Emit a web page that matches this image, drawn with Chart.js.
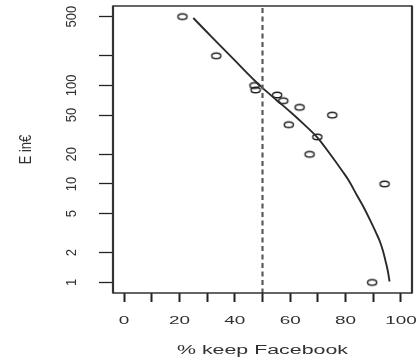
<!DOCTYPE html>
<html>
<head>
<meta charset="utf-8">
<script src="https://cdn.jsdelivr.net/npm/chart.js@4"></script>
<style>
  html, body { margin: 0; padding: 0; background: #fff; }
  #wrap { width: 418px; height: 360px; position: relative; }
</style>
</head>
<body>
<div id="wrap"><canvas id="chart"></canvas></div>
<script>
// Survey answers: share of people who would keep Facebook vs. the price offered
const keepPct = [21.1, 33.3, 47.1, 47.5, 55.3, 57.5, 63.4, 75.2, 59.5, 69.8, 67.0, 94.1, 89.6];
const priceEur = [500, 200, 100, 90, 80, 70, 60, 50, 40, 30, 20, 10, 1];

// Fitted curve through the answers
const fitPct = [25, 30, 35, 40, 45, 48, 50, 55, 60, 65, 70, 75, 79, 81, 84, 86.4, 89, 91, 92.4, 93.5, 94.5, 95.3, 95.9];
const fitEur = [484, 347, 249, 179.5, 128.8, 106.4, 94.4, 71.3, 54.0, 40.2, 29.2, 19.1, 13.3, 11.0, 7.76, 5.89, 4.22, 3.20, 2.60, 2.09, 1.62, 1.29, 1.02];

// Axis ticks
const xTicks = [0, 10, 20, 30, 40, 50, 60, 70, 80, 90, 100];
const xLabels = ['0', '', '20', '', '40', '', '60', '', '80', '', '100'];
const yTicks = [1, 2, 5, 10, 20, 50, 100, 200, 500];
const yLabels = ['1', '2', '5', '10', '20', '50', '100', '', '500'];

const cutoff = 50;
const xTitle = '% keep Facebook';
const yTitle = 'E in€';

const FONT = "'Liberation Sans', Arial, Helvetica, sans-serif";
const INK = '#2a2a2a';

// open ellipse marker
function ringMarker() {
  const c = document.createElement('canvas');
  c.width = 14; c.height = 10;
  const g = c.getContext('2d');
  g.strokeStyle = '#1e1e1e';
  g.lineWidth = 1.4;
  g.beginPath();
  g.ellipse(7, 5, 4.6, 2.8, 0, 0, Math.PI * 2);
  g.stroke();
  return c;
}

function drawLabel(ctx, text, x, y, size, sx, rotated) {
  ctx.save();
  ctx.translate(x, y);
  ctx.scale(sx, 1);
  if (rotated) ctx.rotate(-Math.PI / 2);
  ctx.font = size + 'px ' + FONT;
  ctx.fillStyle = '#303030';
  ctx.textAlign = 'center';
  ctx.textBaseline = 'alphabetic';
  ctx.fillText(text, 0, 0);
  ctx.restore();
}

const frame = {
  id: 'frame',
  afterDraw(chart) {
    const { ctx, chartArea: a, scales } = chart;
    const xs = scales.x, ys = scales.y;

    // reference line at the cutoff
    const xc = xs.getPixelForValue(cutoff);
    ctx.save();
    ctx.strokeStyle = '#5a5a5a';
    ctx.lineWidth = 2.2;
    ctx.setLineDash([5, 3.5]);
    ctx.beginPath();
    ctx.moveTo(xc, a.top + 2);
    ctx.lineTo(xc, a.bottom);
    ctx.stroke();
    ctx.restore();

    // plot box
    ctx.save();
    ctx.strokeStyle = '#333';
    ctx.lineWidth = 1.3;
    ctx.beginPath();
    ctx.moveTo(a.left, a.top); ctx.lineTo(a.right, a.top);
    ctx.moveTo(a.left, a.bottom); ctx.lineTo(a.right, a.bottom);
    ctx.stroke();
    ctx.lineWidth = 2.2;
    ctx.beginPath();
    ctx.moveTo(a.left, a.top - 0.6); ctx.lineTo(a.left, a.bottom + 0.6);
    ctx.moveTo(a.right, a.top - 0.6); ctx.lineTo(a.right, a.bottom + 0.6);
    ctx.stroke();
    ctx.restore();

    // tick labels
    xTicks.forEach((v, i) => {
      if (xLabels[i]) drawLabel(ctx, xLabels[i], xs.getPixelForValue(v), 324, 11, 1.72, false);
    });
    yTicks.forEach((v, i) => {
      if (yLabels[i]) drawLabel(ctx, yLabels[i], 75.5, ys.getPixelForValue(v), 13, 1.15, true);
    });

    // axis titles
    drawLabel(ctx, xTitle, (a.left + a.right) / 2, 353.5, 12, 1.78, false);
    drawLabel(ctx, yTitle, 31, (a.top + a.bottom) / 2, 13, 1.3, true);
  }
};

new Chart(document.getElementById('chart'), {
  type: 'scatter',
  data: {
    datasets: [
      {
        type: 'line',
        data: fitPct.map((x, i) => ({ x, y: fitEur[i] })),
        borderColor: INK,
        borderWidth: 1.9,
        pointRadius: 0,
        fill: false,
        cubicInterpolationMode: 'monotone'
      },
      {
        data: keepPct.map((x, i) => ({ x, y: priceEur[i] })),
        pointStyle: ringMarker(),
        pointRadius: 5,
        backgroundColor: 'transparent',
        borderColor: INK
      }
    ]
  },
  options: {
    responsive: true,
    maintainAspectRatio: false,
    animation: false,
    devicePixelRatio: 1,
    layout: { padding: { top: 6, right: 6, left: 0, bottom: 0 } },
    plugins: { legend: { display: false }, tooltip: { enabled: false } },
    scales: {
      x: {
        type: 'linear',
        min: -4,
        max: 104,
        afterBuildTicks: s => { s.ticks = xTicks.map(v => ({ value: v })); },
        afterFit: s => { s.height = 67; },
        ticks: { display: false },
        border: { display: false },
        grid: { drawOnChartArea: false, drawTicks: true, tickLength: 9, tickWidth: 2, tickColor: '#222' }
      },
      y: {
        type: 'logarithmic',
        min: 0.78,
        max: 641,
        afterBuildTicks: s => { s.ticks = yTicks.map(v => ({ value: v })); },
        afterFit: s => { s.width = 113; },
        ticks: { display: false },
        border: { display: false },
        grid: { drawOnChartArea: false, drawTicks: true, tickLength: 14, tickWidth: 1.3, tickColor: '#222' }
      }
    }
  },
  plugins: [frame]
});
</script>
</body>
</html>
